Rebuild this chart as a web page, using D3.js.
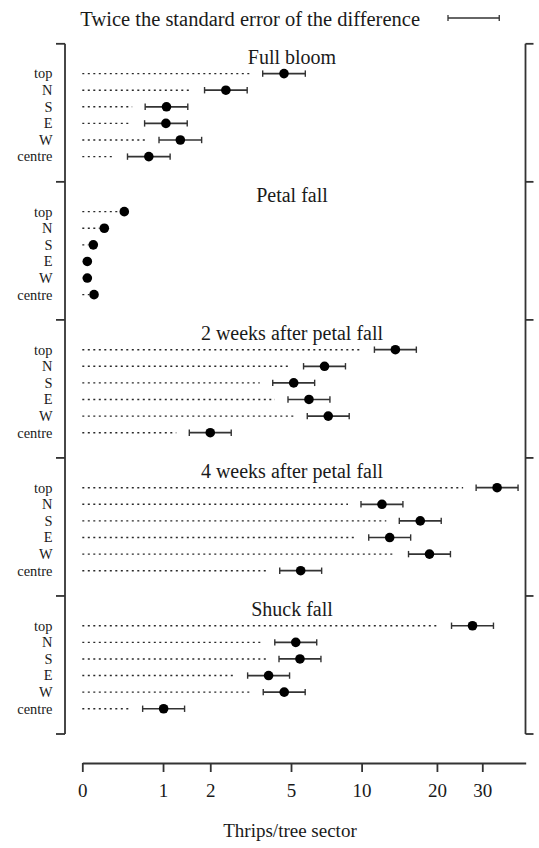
<!DOCTYPE html>
<html><head><meta charset="utf-8">
<script src="https://cdn.jsdelivr.net/npm/d3@7"></script>
<style>body{margin:0;background:#fff} text{font-family:"Liberation Serif","Times New Roman",serif;fill:#1a1a1a}</style>
</head><body><svg id="c" width="539" height="848"></svg>
<script>
// ---- data ----
const panels = ["Full bloom", "Petal fall", "2 weeks after petal fall", "4 weeks after petal fall", "Shuck fall"];
const positions = ["top", "N", "S", "E", "W", "centre"];
const fullBloom = [4.65, 2.43, 1.06, 1.05, 1.32, 0.77];
const petalFall = [0.434, 0.208, 0.099, 0.044, 0.044, 0.106];
const weeks2 = [13.7, 7.0, 5.14, 6.0, 7.26, 2.0];
const weeks4 = [34.2, 12.1, 17.2, 13.0, 18.7, 5.52];
const shuckFall = [27.5, 5.25, 5.48, 3.95, 4.66, 1.01];
const errHalfLog = [0.183, 0, 0.18, 0.18, 0.18];   // half error bar, on log(x+1) scale
const sedLog = 0.44;                               // twice SED, on log(x+1) scale
const xTicks = [0, 1, 2, 5, 10, 20, 30];
const xMax = 44;
const legendText = "Twice the standard error of the difference";
const xTitle = "Thrips/tree sector";

const seriesByPanel = [fullBloom, petalFall, weeks2, weeks4, shuckFall];

// ---- layout ----
const svg = d3.select("#c");
const ink = "#333";
const x = d3.scaleSymlog().constant(1).domain([0, xMax]).range([82.3, 525.7]);
const panelBand = d3.scaleBand().domain(panels).range([43.8, 734]);
const rowPos = d3.scalePoint().domain(positions).range([29.8, 112.8]);
const leftX = 65, rightX = 525.5, axisY = 763;

// brackets
const boundaries = panels.map(p => panelBand(p)).concat([panelBand.range()[1]]);
svg.append("line").attr("x1", leftX).attr("x2", leftX)
  .attr("y1", boundaries[0]).attr("y2", boundaries[boundaries.length - 1])
  .attr("stroke", ink).attr("stroke-width", 1.8);
svg.append("line").attr("x1", rightX).attr("x2", rightX)
  .attr("y1", boundaries[0]).attr("y2", boundaries[boundaries.length - 1])
  .attr("stroke", ink).attr("stroke-width", 1.8);
svg.selectAll(".lt").data(boundaries).join("line")
  .attr("x1", leftX - 9).attr("x2", leftX).attr("y1", d => d).attr("y2", d => d)
  .attr("stroke", ink).attr("stroke-width", 1.8);
svg.selectAll(".rt").data(boundaries).join("line")
  .attr("x1", rightX).attr("x2", rightX + 8).attr("y1", d => d).attr("y2", d => d)
  .attr("stroke", ink).attr("stroke-width", 1.8);

const titleX = 292;
const r = 4.8;

panels.forEach((p, pi) => {
  const top = panelBand(p);
  const g = svg.append("g").attr("transform", `translate(0,${top})`);
  g.append("text").attr("x", titleX).attr("y", 20.5).attr("text-anchor", "middle")
    .attr("font-size", 20).text(p);
  const vals = seriesByPanel[pi];
  const e = errHalfLog[pi];
  const rows = positions.map((pos, i) => {
    const v = vals[i];
    const lo = Math.expm1(Math.log1p(v) - e), hi = Math.expm1(Math.log1p(v) + e);
    return {pos, v, lo, hi, y: rowPos(pos)};
  });
  g.selectAll(".lab").data(rows).join("text")
    .attr("x", 52.5).attr("y", d => d.y).attr("dy", "0.34em")
    .attr("text-anchor", "end").attr("font-size", 14.4).text(d => d.pos);
  // dotted guide lines
  g.selectAll(".dl").data(rows).join("line")
    .attr("x1", x(0)).attr("y1", d => d.y).attr("y2", d => d.y)
    .attr("x2", d => e > 0 ? x(d.lo) - 13 : x(d.v) - r)
    .attr("stroke", "#2a2a2a").attr("stroke-width", 1.4).attr("stroke-dasharray", "2,3.5");
  if (e > 0) {
    g.selectAll(".eb").data(rows).join("line")
      .attr("x1", d => x(d.lo)).attr("x2", d => x(d.hi)).attr("y1", d => d.y).attr("y2", d => d.y)
      .attr("stroke", ink).attr("stroke-width", 1.7);
    g.selectAll(".ebl").data(rows).join("line")
      .attr("x1", d => x(d.lo)).attr("x2", d => x(d.lo)).attr("y1", d => d.y - 3.2).attr("y2", d => d.y + 3.2)
      .attr("stroke", ink).attr("stroke-width", 1.4);
    g.selectAll(".ebh").data(rows).join("line")
      .attr("x1", d => x(d.hi)).attr("x2", d => x(d.hi)).attr("y1", d => d.y - 3.2).attr("y2", d => d.y + 3.2)
      .attr("stroke", ink).attr("stroke-width", 1.4);
  }
  g.selectAll(".dot").data(rows).join("circle")
    .attr("cx", d => x(d.v)).attr("cy", d => d.y).attr("r", r).attr("fill", "#000");
});

// legend
const legX0 = 448;
const legW = x(Math.expm1(sedLog)) - x(0);
svg.append("text").attr("x", 420).attr("y", 26).attr("text-anchor", "end")
  .attr("font-size", 20.5).text(legendText);
const lg = svg.append("g").attr("stroke", ink);
lg.append("line").attr("x1", legX0).attr("x2", legX0 + legW).attr("y1", 18).attr("y2", 18).attr("stroke-width", 1.5);
lg.append("line").attr("x1", legX0).attr("x2", legX0).attr("y1", 15).attr("y2", 21).attr("stroke-width", 1.3);
lg.append("line").attr("x1", legX0 + legW).attr("x2", legX0 + legW).attr("y1", 15).attr("y2", 21).attr("stroke-width", 1.3);

// x axis
const axis = d3.axisBottom(x).tickValues(xTicks).tickFormat(d3.format("d")).tickSize(9).tickSizeOuter(0).tickPadding(12);
const ag = svg.append("g").attr("transform", `translate(0,${axisY})`).call(axis);
ag.select(".domain").attr("stroke", ink).attr("stroke-width", 1.8);
ag.selectAll(".tick line").attr("stroke", ink).attr("stroke-width", 1.8);
ag.selectAll(".tick text").attr("font-size", 19).attr("font-family", "Liberation Serif, serif").attr("fill", "#1a1a1a");
svg.append("text").attr("x", (x(0) + x(xMax)) / 2 - 14).attr("y", 837).attr("text-anchor", "middle")
  .attr("font-size", 19).text(xTitle);
</script></body></html>
